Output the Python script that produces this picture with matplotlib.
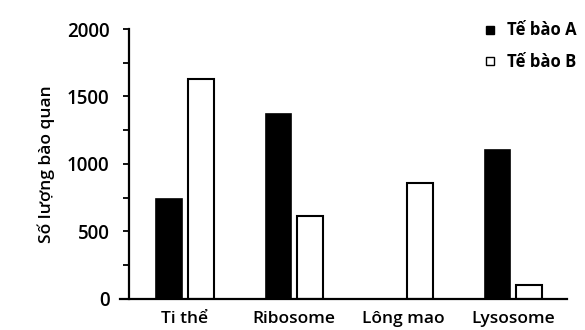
import numpy as np
import matplotlib
matplotlib.use("Agg")
import matplotlib.pyplot as plt
from matplotlib.lines import Line2D
from matplotlib.ticker import MultipleLocator

plt.rcParams['font.family'] = ['Open Sans', 'DejaVu Sans']

# data
categories = ["Ti thể", "Ribosome", "Lông mao", "Lysosome"]
cell_a = [740, 1370, 0, 1100]
cell_b = [1630, 610, 860, 100]
series_names = ["Tế bào A", "Tế bào B"]

x = np.arange(len(categories))
w = 0.235
off = 0.145

fig = plt.figure(figsize=(5.85, 3.3), dpi=100)
ax = fig.add_axes([0.205, 0.095, 0.764, 0.817])

ax.bar(x - off, cell_a, w, color="black", edgecolor="black", linewidth=1.2)
ax.bar(x + off, cell_b, w, color="white", edgecolor="black", linewidth=1.5)

ax.set_xlim(-0.594, 3.49)
ax.set_ylim(0, 2000)

ax.spines['top'].set_visible(False)
ax.spines['right'].set_visible(False)
ax.spines['left'].set_position(('data', -0.51))
ax.spines['left'].set_linewidth(1.6)
ax.spines['bottom'].set_linewidth(1.6)

ax.yaxis.set_major_locator(MultipleLocator(500))
ax.yaxis.set_minor_locator(MultipleLocator(250))
ax.tick_params(axis='y', which='both', direction='out', length=4, width=1.3, pad=10)
ax.tick_params(axis='y', labelsize=13.5)
for lab in ax.get_yticklabels():
    lab.set_fontweight('semibold')

ax.set_xticks(x)
ax.set_xticklabels(categories, fontsize=12.5, fontweight='semibold')
ax.tick_params(axis='x', length=0, pad=9)

ax.set_ylabel("Số lượng bào quan", fontsize=12.5, fontweight='semibold', labelpad=9)

handles = [
    Line2D([], [], marker='s', linestyle='none', markersize=5.5, markerfacecolor='black', markeredgecolor='black'),
    Line2D([], [], marker='s', linestyle='none', markersize=5.5, markerfacecolor='white', markeredgecolor='black', markeredgewidth=1.0),
]
leg = fig.legend(handles, series_names, loc='upper left', bbox_to_anchor=(0.829, 0.935),
                 frameon=False, handlelength=0.6, handletextpad=0.75, labelspacing=0.8,
                 borderaxespad=0.0, borderpad=0.0, prop={'size': 12, 'weight': 'bold'})

fig.savefig("out.png", dpi=100)
